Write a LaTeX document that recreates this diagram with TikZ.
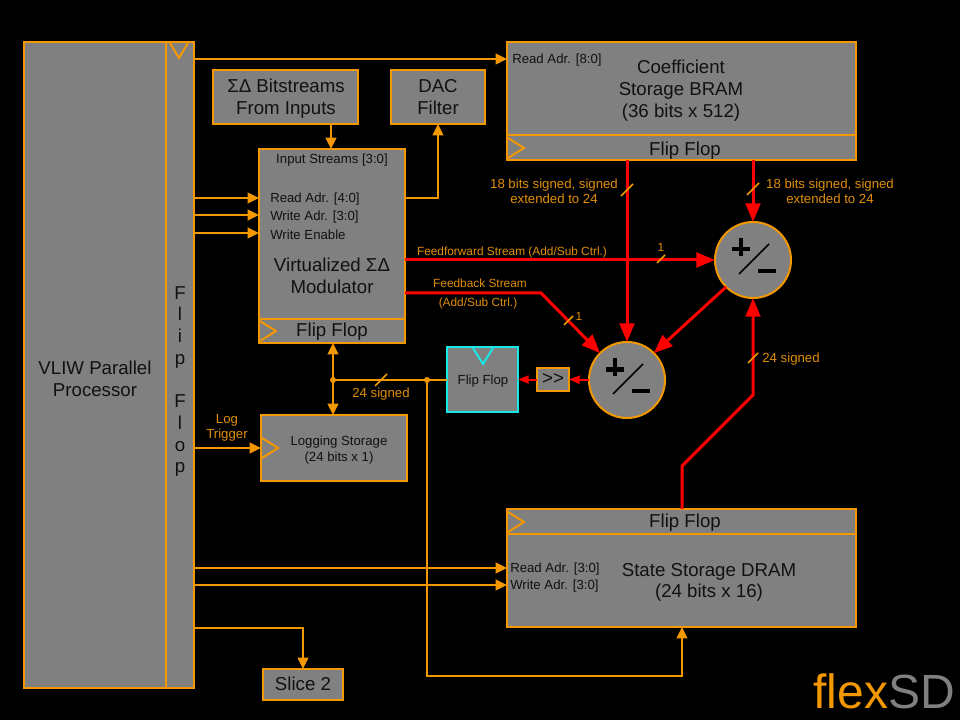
\documentclass[tikz,border=0pt]{standalone}
\usepackage{fontspec}
\setmainfont{Liberation Sans}
\usetikzlibrary{arrows.meta,fit}
\definecolor{org}{HTML}{F39800}
\definecolor{lab}{HTML}{E08E0B}
\definecolor{gry}{HTML}{808080}
\definecolor{ink}{HTML}{111111}
\definecolor{cy}{HTML}{19E6E6}
\newcommand{\fs}[2]{\fontsize{#1}{#2}\selectfont}
\tikzset{
  box/.style={draw=org,line width=1.5pt,fill=gry,inner sep=0pt,outer sep=0pt,text=ink,align=center},
  big/.style={font=\fs{14}{16.4}},
  mid/.style={font=\fs{9.9}{12}},
  txt/.style={inner sep=0pt,text=ink,align=center,yshift=-1.1pt},
  lbl/.style={inner sep=0pt,text=lab,align=center,font=\fs{9.9}{11.2},yshift=-1.1pt},
  small/.style={font=\fs{8.9}{10}},
  ol/.style={draw=org,line width=1.5pt},
  oa/.style={ol,-{Triangle[length=8.5pt,width=8pt]}},
  oab/.style={ol,{Triangle[length=8.5pt,width=8pt]}-{Triangle[length=8.5pt,width=8pt]}},
  rl/.style={draw=red,line width=2.25pt},
  ra/.style={rl,-{Triangle[length=14pt,width=11pt]}},
  rs/.style={draw=red,line width=1.5pt,-{Triangle[length=8pt,width=6pt]}},
  tick/.style={draw=org,line width=1.1pt},
  clk/.style={draw=org,line width=1.5pt},
  dot/.style={circle,fill=org,inner sep=0pt,minimum size=4.5pt},
  adder/.style={circle,draw=org,line width=1.5pt,fill=gry,inner sep=0pt,outer sep=0pt,minimum size=57pt},
  addsym/.pic={
    \fill[black] (-21,-13) rectangle (-3,-8.5);
    \fill[black] (-14.2,-22) rectangle (-9.8,-4);
    \draw[black,line width=1.1pt] (-14,14) -- (16,-16);
    \fill[black] (5,9) rectangle (23,13);
  }
}
\begin{document}
\begin{tikzpicture}[x=0.75pt,y=-0.75pt]
\useasboundingbox (0,0) rectangle (960,720);
\fill[black] (0,0) rectangle (960,720);
% boxes
\node[box,fit={(24,42) (166,688)}] (proc) {};
\node[txt,big] (proct) at (95,377) {VLIW Parallel\\Processor};
\node[box,fit={(166,42) (194,688)}] (col) {};
\node[txt,font=\fs{14}{16.3}] (colt) at (180,380) {F\\l\\i\\p\\\mbox{}\\F\\l\\o\\p};
\node[box,fit={(213,70) (358,124)}] (sig) {};
\node[txt,big] (sigt) at (286,97) {ΣΔ Bitstreams\\From Inputs};
\node[box,fit={(391,70) (485,124)}] (dac) {};
\node[txt,big] (dact) at (438,96) {DAC\\Filter};
\node[box,fit={(507,42) (856,160)}] (bram) {};
\node[txt,big] (bramt) at (681,89) {Coefficient\\Storage BRAM\\(36 bits x 512)};
\node[txt,mid,anchor=west] (bramr) at (512,59) {Read Adr. [8:0]};
\node[txt,big] (bramf) at (685,149) {Flip Flop};
\node[box,fit={(259,149) (405,343)}] (mod) {};
\node[txt,mid] (modi) at (332,159) {Input Streams [3:0]};
\node[txt,mid,anchor=west] (modr) at (270,198) {Read Adr. [4:0]};
\node[txt,mid,anchor=west] (modw) at (270,216) {Write Adr. [3:0]};
\node[txt,mid,anchor=west] (mode) at (270,233) {Write Enable};
\node[txt,big] (modt) at (332,274) {Virtualized ΣΔ\\Modulator};
\node[txt,big] (modf) at (332,330) {Flip Flop};
\node[box,fit={(261,415) (407,481)}] (log) {};
\node[txt,mid] (logt) at (339,449) {Logging Storage\\(24 bits x 1)};
\node[box,draw=cy,fit={(447,347) (518,412)}] (ff) {};
\node[txt,mid] (fft) at (483,380) {Flip Flop};
\node[box,fit={(537,368) (569,391)}] (shift) {};
\node[txt,big] (shiftt) at (553,378) {>{}>};
\node[adder] (adda) at (627,380) {};
\node[adder] (addb) at (753,260) {};
\pic at (adda) {addsym};
\pic at (addb) {addsym};
\node[box,fit={(507,509) (856,627)}] (state) {};
\node[txt,big] (statef) at (685,521) {Flip Flop};
\node[txt,big] (statet) at (709,581) {State Storage DRAM\\(24 bits x 16)};
\node[txt,mid,anchor=west] (stater) at (510,568) {Read Adr. [3:0]};
\node[txt,mid,anchor=west] (statew) at (510,585) {Write Adr. [3:0]};
\node[box,fit={(263,669) (343,700)}] (slice) {};
\node[txt,big] (slicet) at (303,682) {Slice 2};
% dividers and clock marks
\draw[ol] (bram.west |- 0,135) -- (bram.east |- 0,135);
\draw[ol] (mod.west |- 0,319) -- (mod.east |- 0,319);
\draw[ol] (state.west |- 0,534) -- (state.east |- 0,534);
\draw[clk] (170,43) -- (179,58) -- (188,43);
\draw[clk] (508,138) -- (524,148) -- (508,158);
\draw[clk] (260,321) -- (276,331) -- (260,341);
\draw[clk] (262,438) -- (278,448) -- (262,458);
\draw[clk] (508,512) -- (524,522) -- (508,532);
\draw[draw=cy,line width=1.5pt] (473,348) -- (483,364) -- (493,348);
% orange connectors
\draw[oa] (col.east |- 0,59) -- (bram.west |- 0,59);
\draw[oa] (sig.south -| 331,0) -- (mod.north -| 331,0);
\draw[oa] (mod.east |- 0,198) -| (dac.south);
\draw[oa] (col.east |- 0,198) -- (mod.west |- 0,198);
\draw[oa] (col.east |- 0,215) -- (mod.west |- 0,215);
\draw[oa] (col.east |- 0,233) -- (mod.west |- 0,233);
\draw[oa] (col.east |- 0,448) -- (log.west |- 0,448);
\draw[oa] (col.east |- 0,568) -- (state.west |- 0,568);
\draw[oa] (col.east |- 0,585) -- (state.west |- 0,585);
\draw[oa] (col.east |- 0,628) -| (slice.north);
\node[dot] (j1) at (333,380) {};
\node[dot] (j2) at (427,380) {};
\draw[ol] (ff.west |- j1) -- (j1);
\draw[oab] (mod.south -| j1) -- (log.north -| j1);
\coordinate (cdown) at (427,676);
\draw[oa] (j2) -- (cdown) -| (state.south -| 682,0);
% red connectors
\coordinate (fb) at (541,293);
\coordinate (st1) at (682,466);
\coordinate (st2) at (753,395);
\draw[ra] (bram.south -| adda) -- (adda.north);
\draw[ra] (bram.south -| addb) -- (addb.north);
\draw[ra] (mod.east |- addb) -- (addb.west);
\draw[ra] (mod.east |- fb) -- (fb) -- (adda.135);
\draw[ra] (addb.225) -- (adda.45);
\draw[ra] (state.north -| st1) -- (st1) -- (st2) -- (addb.south);
\draw[rs] (adda.west) -- (shift.east);
\draw[rs] (shift.west) -- (ff.east |- shift.west);
% ticks
\draw[tick] (375,386) -- (387,374);
\draw[tick] (621,196) -- (633,184);
\draw[tick] (747,195) -- (759,183);
\draw[tick] (657,263) -- (665,255);
\draw[tick] (564,325) -- (573,316);
\draw[tick] (748,363) -- (758,353);
% labels
\node[lbl] (l1) at (554,190) {18 bits signed, signed\\extended to 24};
\node[lbl] (l2) at (830,190) {18 bits signed, signed\\extended to 24};
\node[lbl,small] (l3) at (512,251) {Feedforward Stream (Add/Sub Ctrl.)};
\node[lbl,small] (l4) at (480,282) {Feedback Stream};
\node[lbl,small] (l5) at (478,302) {(Add/Sub Ctrl.)};
\node[lbl,small] (l6) at (661,246) {1};
\node[lbl,small] (l7) at (579,315) {1};
\node[lbl] (l8) at (381,393) {24 signed};
\node[lbl] (l9) at (791,358) {24 signed};
\node[lbl] (l10) at (227,426) {Log\\Trigger};
% logo
\node[inner sep=0pt,anchor=base east,font=\fs{36}{40}] (logo) at (955,708) {\textcolor{org}{flex}\textcolor{gry}{SD}};
\end{tikzpicture}
\end{document}
